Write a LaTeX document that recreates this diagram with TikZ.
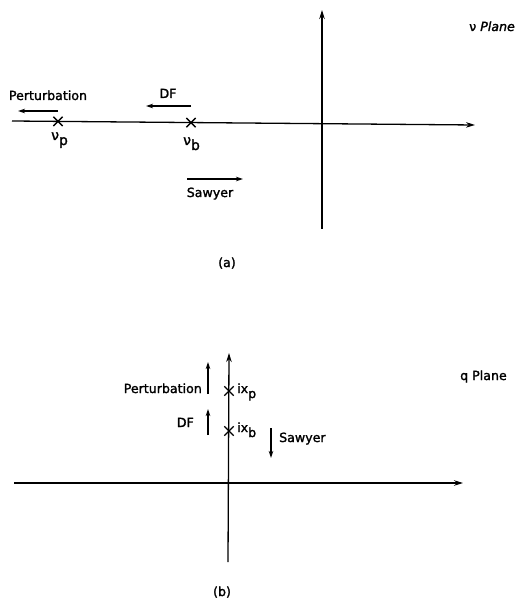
\documentclass[tikz,border=0pt]{standalone}
\usepackage{fontspec}
\setmainfont{DejaVu Sans}
\newfontfamily\lblfont{DejaVu Sans}[FakeBold=1.6]
\usetikzlibrary{arrows.meta,shapes.misc}
\newcommand\lowsub[1]{\raisebox{-5pt}{#1}}
\begin{document}
\begin{tikzpicture}[x=1pt,y=-1pt,
  axisline/.style={line width=1.3pt,-{Stealth[length=9pt,width=5.5pt]}},
  dirarrow/.style={line width=1.3pt,-{Stealth[length=7pt,width=4.5pt]}},
  xmark/.style={cross out,draw,line width=1.3pt,minimum size=8pt,inner sep=0pt},
  lbl/.style={font=\lblfont\fontsize{12.6}{14}\selectfont,inner sep=0pt},
]
\useasboundingbox (0,0) rectangle (516,601);
% ---------- (a) nu plane ----------
\coordinate (ha1) at (12,121);
\coordinate (ha2) at (475,125);
\coordinate (va1) at (322,229);
\coordinate (va2) at (322,10);
\draw[axisline] (ha1) -- (ha2);
\draw[axisline] (va1) -- (va2);
\node[xmark] (np) at (58,121.4) {};
\node[xmark] (nb) at (191,122.6) {};
\node[lbl,anchor=base west] (lnp) at (51,140) {\fontsize{14}{16}\selectfont ν\lowsub{p}};
\node[lbl,anchor=base west] (lnb) at (183,145) {\fontsize{14}{16}\selectfont ν\lowsub{b}};
\coordinate (pa1) at (58,111);
\coordinate (pa2) at (18,111);
\coordinate (da1) at (191,106);
\coordinate (da2) at (146,106);
\coordinate (sa1) at (187,179);
\coordinate (sa2) at (243,179);
\draw[dirarrow] (pa1) -- (pa2);
\draw[dirarrow] (da1) -- (da2);
\draw[dirarrow] (sa1) -- (sa2);
\node[lbl,anchor=base] (tpa) at (48,100) {Perturbation};
\node[lbl,anchor=base] (tda) at (168,98) {DF};
\node[lbl,anchor=base] (tsa) at (210,197) {Sawyer};
\node[lbl,anchor=base west] (plna) at (469,31) {ν \itshape Plane};
\node[lbl,anchor=base] (capa) at (227,267) {(a)};
% ---------- (b) q plane ----------
\coordinate (hb1) at (14,483);
\coordinate (hb2) at (463,483);
\coordinate (vb1) at (228,562);
\coordinate (vb2) at (229,353);
\draw[axisline] (hb1) -- (hb2);
\draw[axisline] (vb1) -- (vb2);
\node[xmark] (xp) at (229,391) {};
\node[xmark] (xb) at (229,431) {};
\node[lbl,anchor=base west] (lxp) at (237,393) {ix\lowsub{p}};
\node[lbl,anchor=base west] (lxb) at (237,432) {ix\lowsub{b}};
\coordinate (pb1) at (208,394);
\coordinate (pb2) at (208,362);
\coordinate (db1) at (208,435);
\coordinate (db2) at (208,409);
\coordinate (sb1) at (271,428);
\coordinate (sb2) at (271,458);
\draw[dirarrow] (pb1) -- (pb2);
\draw[dirarrow] (db1) -- (db2);
\draw[dirarrow] (sb1) -- (sb2);
\node[lbl,anchor=base east] (tpb) at (202,393) {Perturbation};
\node[lbl,anchor=base east] (tdb) at (194,427) {DF};
\node[lbl,anchor=base west] (tsb) at (279,442) {Sawyer};
\node[lbl,anchor=base west] (plnb) at (460,380) {q Plane};
\node[lbl,anchor=base] (capb) at (222,596) {(b)};
\end{tikzpicture}
\end{document}
